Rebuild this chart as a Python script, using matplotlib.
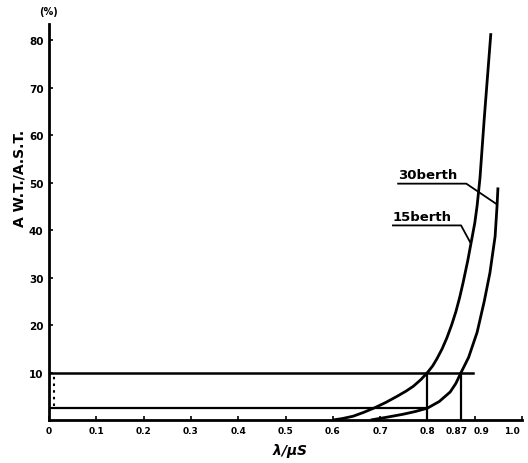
import numpy as np
import matplotlib
matplotlib.use("Agg")
from matplotlib import pyplot as plt
from matplotlib import transforms

# curves: rho = lambda/(mu S), waiting ratio in %
x_15 = [0.600, 0.620, 0.643, 0.665, 0.689, 0.712, 0.736, 0.755, 0.770, 0.786,
        0.800, 0.811, 0.820, 0.831, 0.841, 0.851, 0.860, 0.868, 0.875, 0.885,
        0.894, 0.900, 0.905, 0.911, 0.920, 0.934]
y_15 = [0.0, 0.3, 0.8, 1.6, 2.6, 3.7, 5.0, 6.1, 7.1, 8.5,
        10.0, 11.4, 12.9, 15.0, 17.3, 20.0, 22.8, 25.8, 28.8, 33.5,
        38.3, 41.5, 45.2, 51.0, 63.5, 81.5]
x_30 = [0.680, 0.715, 0.748, 0.775, 0.800, 0.825, 0.848, 0.860, 0.870, 0.887,
        0.905, 0.920, 0.932, 0.943, 0.947, 0.949]
y_30 = [0.0, 0.6, 1.2, 1.8, 2.5, 3.9, 5.9, 7.7, 9.8, 13.2,
        18.5, 25.0, 31.0, 38.7, 45.0, 49.0]

# reference levels drawn on the chart
level_hi = 10.0
level_lo = 2.5
rho_15 = 0.80
rho_30 = 0.87

xticks = [0, 0.1, 0.2, 0.3, 0.4, 0.5, 0.6, 0.7, 0.8, 0.87, 0.9, 1.0]
xtick_labels = ["0", "0.1", "0.2", "0.3", "0.4", "0.5", "0.6", "0.7", "0.8", "0.87", "0.9", "1.0"]
yticks = [10, 20, 30, 40, 50, 60, 70, 80]

plt.rcParams['font.family'] = ['DejaVu Sans']
plt.rcParams['font.weight'] = 'bold'

fig = plt.figure(figsize=(5.28, 4.64), dpi=100)
ax = fig.add_axes([0.0928, 0.0927, 0.896, 0.853])

lw = 2.0
ax.plot(x_15, y_15, color='black', lw=lw, solid_capstyle='butt', solid_joinstyle='round')
ax.plot(x_30, y_30, color='black', lw=lw, solid_capstyle='butt', solid_joinstyle='round')

# horizontal guide lines
ax.plot([0, 0.897], [level_hi, level_hi], color='black', lw=1.8)
ax.plot([0, rho_15], [level_lo, level_lo], color='black', lw=1.6)
# vertical guide lines
ax.plot([rho_15, rho_15], [0, level_hi], color='black', lw=1.6)
ax.plot([rho_30, rho_30], [0, level_hi], color='black', lw=1.6)
# small dotted marker between the two levels
ax.plot([0.011, 0.011], [level_lo + 0.4, level_hi - 0.4], color='black', lw=1.5,
        linestyle=(0, (1.2, 2.0)))

# labels with leader lines
ax.text(0.738, 50.4, "30berth", fontsize=9.5, fontweight='bold', ha='left', va='bottom')
ax.plot([0.738, 0.882, 0.946], [49.8, 49.8, 45.5], color='black', lw=1.3)
ax.text(0.727, 41.6, "15berth", fontsize=9.5, fontweight='bold', ha='left', va='bottom')
ax.plot([0.727, 0.871, 0.890], [41.0, 41.0, 37.5], color='black', lw=1.3)

ax.set_xlim(0, 1.0)
ax.set_ylim(0, 83.4)
ax.spines['top'].set_visible(False)
ax.spines['right'].set_visible(False)
ax.spines['left'].set_linewidth(2.0)
ax.spines['bottom'].set_linewidth(2.0)

ax.set_xticks(xticks)
ax.set_xticklabels(xtick_labels, fontsize=6.5, fontweight='bold')
ax.set_yticks(yticks)
ax.set_yticklabels([str(v) for v in yticks], fontsize=7.5, fontweight='bold')
ax.tick_params(direction='in', length=3, width=1.2, pad=4)

# nudge the crowded labels near the right end
shifts = {"0.87": -3, "0.9": 5, "1.0": -7}
for lab in ax.get_xticklabels():
    dx = shifts.get(lab.get_text())
    if dx:
        lab.set_transform(lab.get_transform() +
                          transforms.ScaledTranslation(dx / 72, 0, fig.dpi_scale_trans))

ax.set_ylabel("A W.T./A.S.T.", fontsize=10, fontweight='bold')
ax.yaxis.set_label_coords(-0.047, 0.614)
ax.set_xlabel(r"$\lambda$/$\mu$S", fontsize=10, fontweight='bold', style='italic')
ax.xaxis.set_label_coords(0.51, -0.052)
ax.text(0.0, 1.02, "(%)", transform=ax.transAxes, fontsize=7, fontweight='bold',
        ha='center', va='bottom')

fig.savefig("out.png", dpi=100)
